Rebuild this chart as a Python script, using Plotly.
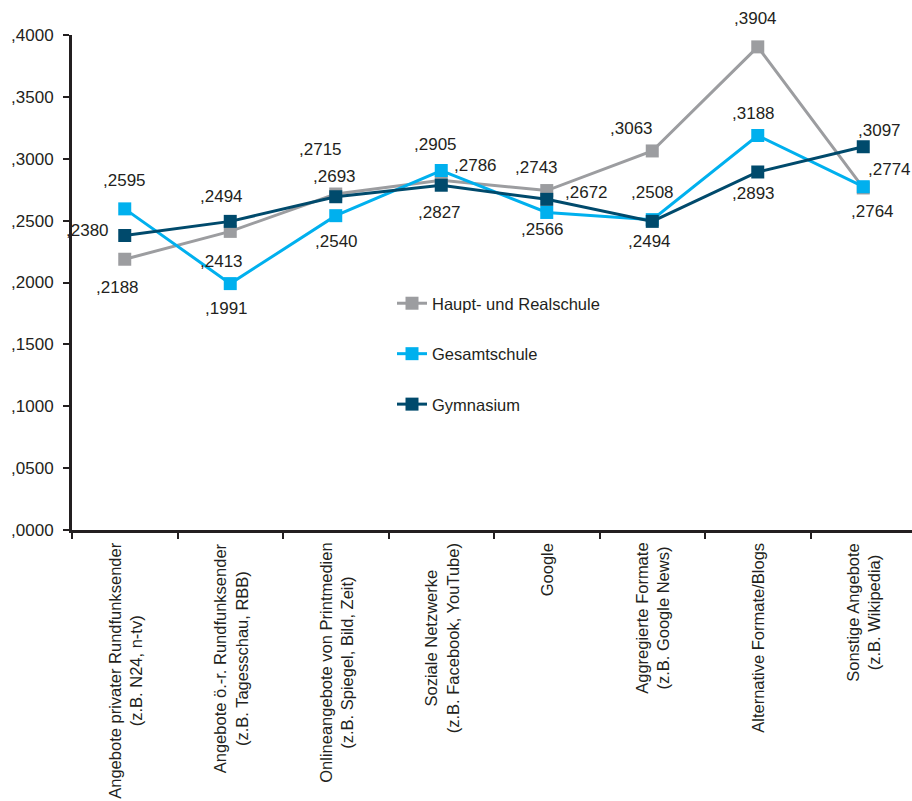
import plotly.graph_objects as go

# Kategorien (Nachrichtenquellen)
categories = [
    "Angebote privater Rundfunksender<br>(z.B. N24, n-tv)",
    "Angebote ö.-r. Rundfunksender<br>(z.B. Tagesschau, RBB)",
    "Onlineangebote von Printmedien<br>(z.B. Spiegel, Bild, Zeit)",
    "Soziale Netzwerke<br>(z.B. Facebook, YouTube)",
    "Google",
    "Aggregierte Formate<br>(z.B. Google News)",
    "Alternative Formate/Blogs",
    "Sonstige Angebote<br>(z.B. Wikipedia)",
]

# Mittelwerte je Schulform
haupt_real = [0.2188, 0.2413, 0.2715, 0.2827, 0.2743, 0.3063, 0.3904, 0.2764]
gesamtschule = [0.2595, 0.1991, 0.2540, 0.2905, 0.2566, 0.2508, 0.3188, 0.2774]
gymnasium = [0.2380, 0.2494, 0.2693, 0.2786, 0.2672, 0.2494, 0.2893, 0.3097]

y_ticks = [0.0, 0.05, 0.10, 0.15, 0.20, 0.25, 0.30, 0.35, 0.40]

# Pixelversatz der Wertbeschriftungen (dx, dy; dy positiv = nach unten)
offsets_haupt = [(-7, 28), (-9, 30), (-15, -45), (-2, 32), (-10, -23), (-21, -22), (-2, -28), (9, 24)]
offsets_gesamt = [(0, -28), (-4, 25), (1, 26), (-6, -26), (-4, 17), (0, -27), (-4, -22), (26, -17)]
offsets_gym = [(-37, -5), (-9, -25), (-1, -20), (34, -20), (40, -7), (-3, 20), (-4, 22), (16, -16)]

FONT = "Liberation Sans, Arial, Helvetica, sans-serif"
TEXT_COLOR = "#231f20"


def fmt(v):
    # Darstellung ohne führende Null: ,2595
    return "," + f"{v:.4f}".split(".")[1]


series = [
    ("Haupt- und Realschule", haupt_real, "#9c9da0", offsets_haupt),
    ("Gesamtschule", gesamtschule, "#00b0ee", offsets_gesamt),
    ("Gymnasium", gymnasium, "#004a6c", offsets_gym),
]

x_idx = list(range(len(categories)))

fig = go.Figure()
annotations = []
for i, (name, vals, color, offs) in enumerate(series):
    fig.add_trace(go.Scatter(
        x=x_idx, y=vals, name=name, mode="lines+markers",
        line=dict(color=color, width=3),
        marker=dict(symbol="square", size=13, color=color),
        legendgroup=f"g{i}",
        hoverinfo="skip",
    ))
    for xi, v, (dx, dy) in zip(x_idx, vals, offs):
        annotations.append(dict(
            x=xi, y=v, xref="x", yref="y", text=fmt(v), showarrow=False,
            xshift=dx, yshift=-dy, xanchor="center", yanchor="middle",
            font=dict(family=FONT, size=17, color=TEXT_COLOR),
        ))

# Kategorienbeschriftungen unter der x-Achse, gedreht und zentriert
for xi, cat in zip(x_idx, categories):
    annotations.append(dict(
        x=xi, y=0, xref="x", yref="paper", text=cat, showarrow=False,
        textangle=-90, xanchor="center", yanchor="top", yshift=-11,
        align="center",
        font=dict(family=FONT, size=16.5, color=TEXT_COLOR),
    ))

fig.update_layout(
    width=912, height=801,
    margin=dict(l=72, r=0, t=35, b=271, pad=0),
    paper_bgcolor="white", plot_bgcolor="white",
    font=dict(family=FONT, size=17, color=TEXT_COLOR),
    showlegend=True,
    legend=dict(
        x=(392 - 72) / 840, y=1 - (286 - 35) / 495, xanchor="left", yanchor="top",
        bgcolor="rgba(0,0,0,0)", font=dict(family=FONT, size=16.5, color=TEXT_COLOR),
        tracegroupgap=26, itemwidth=30,
    ),
    annotations=annotations,
    xaxis=dict(
        type="linear", range=[-0.5, 7.462], showgrid=False, zeroline=False,
        showline=True, linecolor="#231f20", linewidth=3,
        tickmode="array", tickvals=[i - 0.5 for i in range(len(categories) + 1)],
        ticks="outside", ticklen=6, tickwidth=2, tickcolor="#231f20",
        showticklabels=False,
    ),
    yaxis=dict(
        range=[0, 0.4], showgrid=False, zeroline=False,
        showline=True, linecolor="#231f20", linewidth=3,
        tickmode="array", tickvals=y_ticks, ticktext=[fmt(t) for t in y_ticks],
        ticks="outside", ticklen=6, tickwidth=2, tickcolor="#231f20",
        ticklabelstandoff=6,
        tickfont=dict(family=FONT, size=17, color=TEXT_COLOR),
    ),
)

fig.write_html("out.html")
